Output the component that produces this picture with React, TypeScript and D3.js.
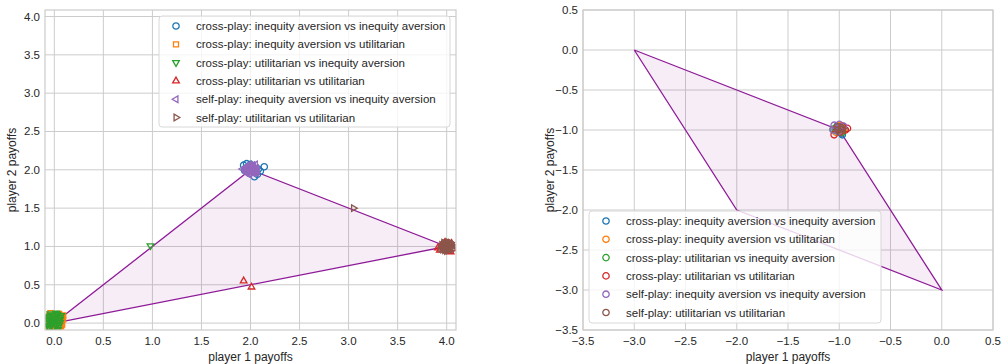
import React from "react";
import * as d3 from "d3";

// legend labels and colours (shared by both panels)
const seriesNames = [
  "cross-play: inequity aversion vs inequity aversion",
  "cross-play: inequity aversion vs utilitarian",
  "cross-play: utilitarian vs inequity aversion",
  "cross-play: utilitarian vs utilitarian",
  "self-play: inequity aversion vs inequity aversion",
  "self-play: utilitarian vs utilitarian",
];
const seriesColors = ["#1f77b4", "#ff7f0e", "#2ca02c", "#d62728", "#9467bd", "#8c564b"];
const leftMarkers = ["circle", "square", "down", "up", "left", "right"];

// left panel: payoff region corners
const leftHull: [number, number][] = [[0, 0], [2, 2], [4, 1]];

// left panel scatter points (player 1, player 2)
const leftIneqIneq: [number, number][] = [
  [1.93, 2.06], [1.96, 2.08], [2.0, 2.07], [2.05, 1.97], [2.14, 2.04], [2.04, 1.91],
  [1.96, 1.98], [2.08, 2.01], [1.99, 1.95], [2.03, 2.03], [1.95, 2.02], [2.07, 1.94],
  [2.01, 2.0], [1.98, 2.04], [2.1, 1.98], [1.94, 1.99],
];
const leftIneqUtil: [number, number][] = [
  [-0.06, -0.05], [-0.03, 0.08], [0.02, -0.07], [0.07, 0.03], [0.09, 0.1], [0.06, -0.06],
  [-0.07, 0.02], [0.0, 0.0], [0.04, 0.06], [-0.02, -0.03], [0.08, -0.02], [0.05, 0.12],
  [-0.05, 0.1], [0.01, 0.04], [0.09, 0.05], [0.07, -0.04], [-0.04, 0.13], [0.08, 0.08],
  [0.03, -0.05], [-0.06, -0.02],
];
const leftUtilIneq: [number, number][] = [
  [-0.07, 0.0], [-0.04, 0.12], [-0.01, -0.06], [0.03, 0.09], [0.05, -0.03], [0.0, 0.03],
  [-0.05, -0.07], [0.02, 0.13], [0.06, 0.05], [-0.02, 0.06], [0.04, -0.08], [-0.06, 0.07],
  [0.01, -0.02], [0.07, 0.1], [-0.03, -0.01], [0.03, 0.01], [-0.06, 0.04], [-0.02, 0.1],
  [0.01, 0.07], [0.04, 0.04], [-0.04, -0.04], [0.0, -0.07], [0.05, 0.08], [-0.07, -0.03],
  [0.02, -0.04], [-0.01, 0.01], [0.06, 0.01], [-0.03, 0.03], [0.03, 0.11], [-0.05, 0.09],
  [0.98, 1.01],
];
const leftUtilUtil: [number, number][] = [
  [3.91, 0.98], [3.95, 1.02], [3.93, 0.95], [4.02, 0.94], [4.05, 1.04], [3.98, 1.05],
  [4.06, 0.97], [3.94, 1.0], [4.04, 0.93], [1.93, 0.55], [2.01, 0.47],
];
const leftSelfIneq: [number, number][] = [
  [1.95, 2.0], [1.98, 2.05], [2.02, 2.06], [2.06, 2.02], [2.04, 1.96], [1.99, 1.94],
  [1.96, 1.97], [2.01, 2.01], [2.03, 1.99], [1.97, 2.03], [2.05, 2.07], [2.0, 1.97],
  [1.92, 2.01], [2.07, 1.99], [2.0, 2.03], [1.98, 1.99], [2.03, 2.04], [1.97, 1.95],
  [2.05, 1.99], [1.99, 2.07], [2.02, 1.96], [1.95, 2.03], [2.01, 1.99], [2.04, 2.01],
  [1.98, 2.02], [2.06, 1.96],
];
const leftSelfUtil: [number, number][] = [
  [3.96, 0.99], [3.99, 1.04], [4.03, 1.03], [4.05, 0.99], [4.02, 0.95], [3.98, 0.95],
  [3.95, 1.02], [4.0, 1.0], [4.02, 1.01], [3.99, 0.98], [4.04, 1.05], [3.97, 1.05],
  [4.06, 0.96], [3.94, 0.97], [4.01, 1.06], [3.97, 1.01], [4.03, 0.97], [4.0, 0.94],
  [3.98, 1.03], [4.05, 1.02], [4.01, 0.99], [3.96, 0.96], [4.02, 1.04], [3.99, 1.01],
  [3.05, 1.5],
];
const leftSeries = [leftIneqIneq, leftIneqUtil, leftUtilIneq, leftUtilUtil, leftSelfIneq, leftSelfUtil];

// right panel: payoff region corners
const rightHull: [number, number][] = [[-3, 0], [-1, -1], [0, -3], [-2, -2]];

// right panel scatter points
const rightIneqIneq: [number, number][] = [
  [-1.02, -0.95], [-0.98, -1.04], [-0.96, -0.97], [-1.0, -1.0], [-1.04, -0.99], [-0.97, -1.06],
];
const rightIneqUtil: [number, number][] = [
  [-0.95, -0.99], [-0.99, -0.94], [-1.03, -1.03], [-0.97, -1.01], [-1.01, -0.97],
];
const rightUtilIneq: [number, number][] = [
  [-1.06, -0.99], [-1.0, -0.96], [-0.97, -1.03], [-1.03, -1.01], [-0.99, -0.99],
];
const rightUtilUtil: [number, number][] = [
  [-0.92, -0.98], [-1.05, -1.06], [-0.97, -0.95], [-1.02, -0.99], [-0.99, -1.02], [-0.94, -1.0],
];
const rightSelfIneq: [number, number][] = [
  [-1.05, -0.94], [-1.0, -0.93], [-0.96, -0.95], [-1.06, -1.0], [-1.01, -1.02],
];
const rightSelfUtil: [number, number][] = [
  [-0.98, -0.97], [-1.01, -1.0], [-0.97, -0.99], [-1.02, -0.96], [-0.99, -1.03],
];
const rightSeries = [rightIneqIneq, rightIneqUtil, rightUtilIneq, rightUtilUtil, rightSelfIneq, rightSelfUtil];
const rightMarkers = ["circle", "circle", "circle", "circle", "circle", "circle"];

const leftTicks = d3.range(0, 4.01, 0.5);
const rightTicks = d3.range(-3.5, 0.51, 0.5);

const FONT = "'Liberation Sans', Arial, sans-serif";
const TEXT = "#262626";
const GRID = "#cccccc";

function markerPath(kind: string) {
  if (kind === "circle") return d3.symbol(d3.symbolCircle, 32)()!;
  if (kind === "square") return d3.symbol(d3.symbolSquare, 25)()!;
  return d3.symbol(d3.symbolTriangle, 19)()!;
}
function markerRot(kind: string) {
  if (kind === "down") return 180;
  if (kind === "left") return -90;
  if (kind === "right") return 90;
  return 0;
}

function Marker({ kind, color, x, y }: { kind: string; color: string; x: number; y: number }) {
  return (
    <path
      d={markerPath(kind)}
      transform={`translate(${x},${y}) rotate(${markerRot(kind)})`}
      fill="none"
      stroke={color}
      strokeWidth={1.3}
    />
  );
}

type PanelProps = {
  x0: number; x1: number; y0: number; y1: number;
  xDomain: [number, number]; yDomain: [number, number];
  ticks: number[]; hull: [number, number][];
  series: [number, number][][]; markers: string[];
  legend: { x: number; y: number; w: number; h: number };
};

function Panel({ x0, x1, y0, y1, xDomain, yDomain, ticks, hull, series, markers, legend }: PanelProps) {
  const x = d3.scaleLinear().domain(xDomain).range([x0, x1]);
  const y = d3.scaleLinear().domain(yDomain).range([y1, y0]);
  const fmt = (v: number) => d3.format(".1f")(v).replace("-", "\u2212");
  const line = d3.line<[number, number]>().x((d) => x(d[0])).y((d) => y(d[1]));
  const closed = [...hull, hull[0]];
  const rowH = 18.3;
  return (
    <g>
      <defs>
        <clipPath id={`clip${x0}`}>
          <rect x={x0} y={y0} width={x1 - x0} height={y1 - y0} />
        </clipPath>
      </defs>
      {ticks.map((t) => (
        <line key={"gx" + t} x1={x(t)} x2={x(t)} y1={y0} y2={y1} stroke={GRID} strokeWidth={1} />
      ))}
      {ticks.map((t) => (
        <line key={"gy" + t} x1={x0} x2={x1} y1={y(t)} y2={y(t)} stroke={GRID} strokeWidth={1} />
      ))}
      <g clipPath={`url(#clip${x0})`}>
        <path d={line(closed)!} fill="#800080" fillOpacity={0.07} stroke="none" />
        <path d={line(closed)!} fill="none" stroke="#8e1a98" strokeWidth={1.3} />
        {series.map((pts, si) =>
          pts.map((p, i) => (
            <Marker key={si + "-" + i} kind={markers[si]} color={seriesColors[si]} x={x(p[0])} y={y(p[1])} />
          ))
        )}
      </g>
      <rect x={x0} y={y0} width={x1 - x0} height={y1 - y0} fill="none" stroke={GRID} strokeWidth={1.2} />
      {ticks.map((t) => (
        <text key={"tx" + t} x={x(t)} y={y1 + 15} textAnchor="middle" fontSize={11.5} fill={TEXT} fontFamily={FONT}>
          {fmt(t)}
        </text>
      ))}
      {ticks.map((t) => (
        <text key={"ty" + t} x={x0 - 5} y={y(t) + 4} textAnchor="end" fontSize={11.5} fill={TEXT} fontFamily={FONT}>
          {fmt(t)}
        </text>
      ))}
      <text x={(x0 + x1) / 2} y={y1 + 31} textAnchor="middle" fontSize={12} fill={TEXT} fontFamily={FONT}>
        player 1 payoffs
      </text>
      <text
        transform={`translate(${x0 - 29},${(y0 + y1) / 2}) rotate(-90)`}
        textAnchor="middle"
        fontSize={12}
        fill={TEXT}
        fontFamily={FONT}
      >
        player 2 payoffs
      </text>
      <rect
        x={legend.x}
        y={legend.y}
        width={legend.w}
        height={legend.h}
        rx={3}
        fill="#ffffff"
        fillOpacity={0.8}
        stroke="#d8d8d8"
        strokeWidth={1}
      />
      {seriesNames.map((name, i) => (
        <g key={name}>
          <Marker kind={markers[i]} color={seriesColors[i]} x={legend.x + 17} y={legend.y + 10 + i * rowH} />
          <text x={legend.x + 37} y={legend.y + 14 + i * rowH} fontSize={11.5} fill={TEXT} fontFamily={FONT}>
            {name}
          </text>
        </g>
      ))}
    </g>
  );
}

export default function App() {
  return (
    <svg width={1001} height={364} style={{ position: "absolute", left: 0, top: 0, background: "#fff" }}>
      <Panel
        x0={45} x1={456} y0={10} y1={330}
        xDomain={[-0.095, 4.095]} yDomain={[-0.09, 4.085]}
        ticks={leftTicks} hull={leftHull} series={leftSeries} markers={leftMarkers}
        legend={{ x: 159, y: 16, w: 291, h: 111 }}
      />
      <Panel
        x0={583} x1={993} y0={10} y1={330}
        xDomain={[-3.5, 0.5]} yDomain={[-3.5, 0.5]}
        ticks={rightTicks} hull={rightHull} series={rightSeries} markers={rightMarkers}
        legend={{ x: 589, y: 211, w: 292, h: 112 }}
      />
    </svg>
  );
}
